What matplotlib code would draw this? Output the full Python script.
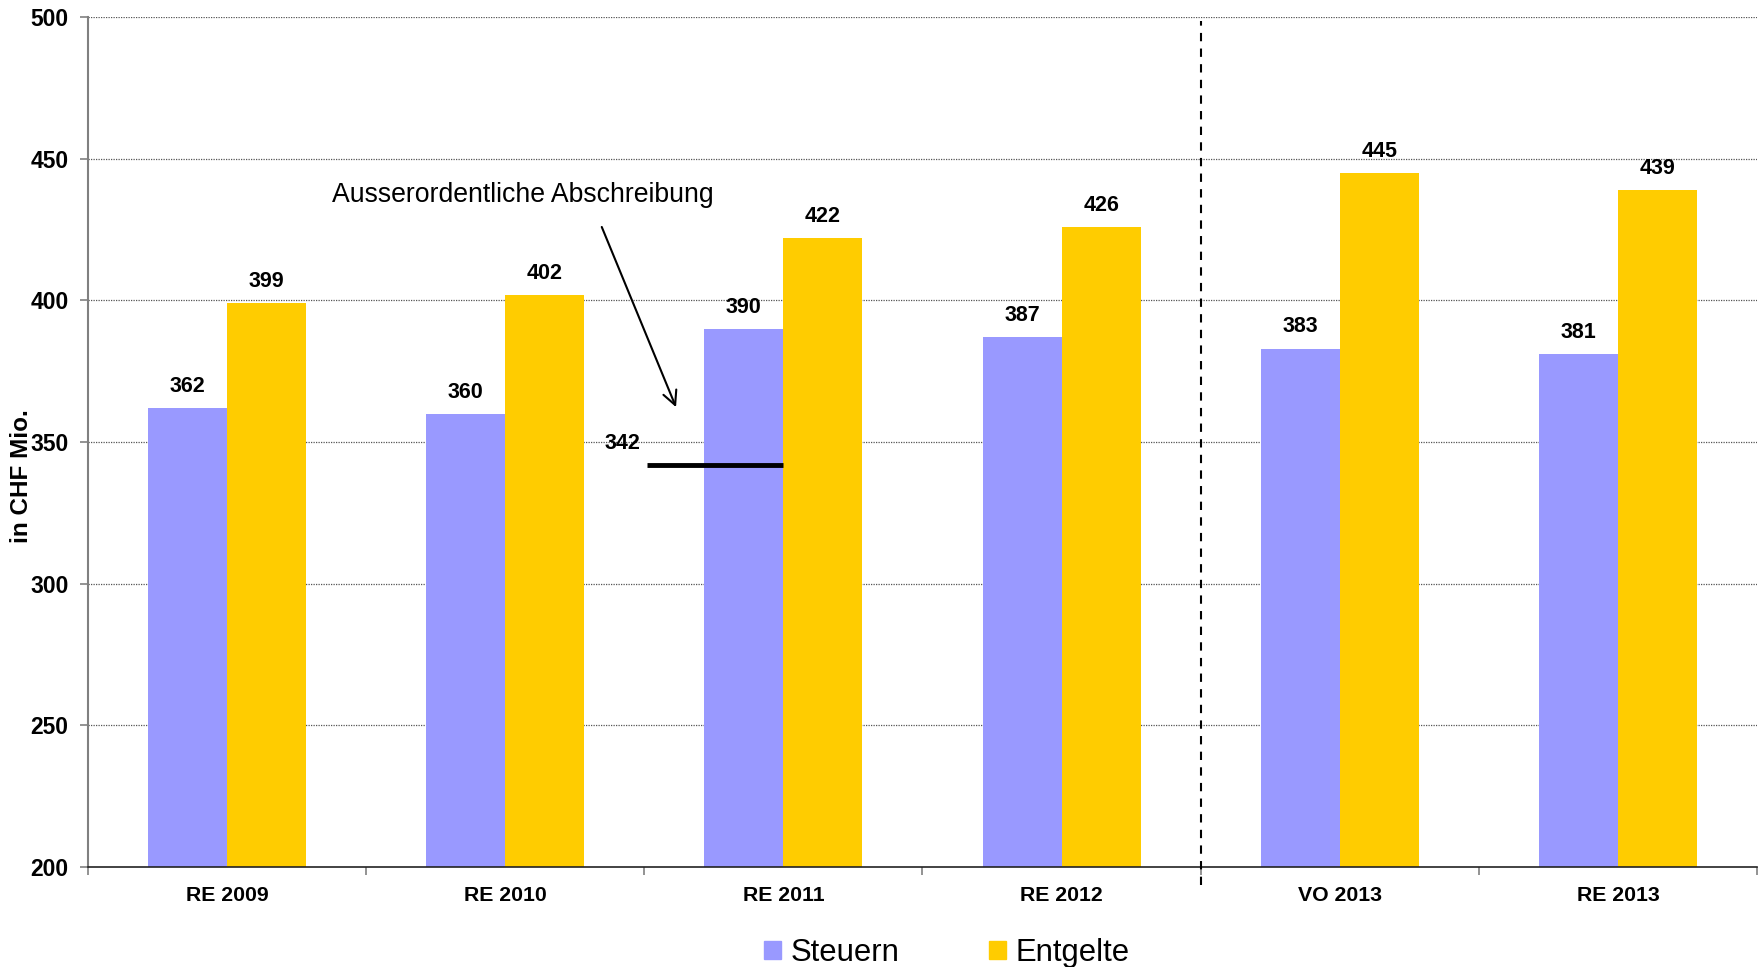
import matplotlib
matplotlib.use("Agg")
import matplotlib.pyplot as plt
from matplotlib.patches import Patch
import numpy as np

plt.rcParams['font.family'] = ['Liberation Sans', 'DejaVu Sans']

categories = ["RE 2009", "RE 2010", "RE 2011", "RE 2012", "VO 2013", "RE 2013"]
steuern = [362, 360, 390, 387, 383, 381]
entgelte = [399, 402, 422, 426, 445, 439]
steuern_ohne_abschreibung = 342  # RE 2011 without the extraordinary write-off
y_ticks = [200, 250, 300, 350, 400, 450, 500]

c_steuern = "#9999FF"
c_entgelte = "#FFCC00"

fig = plt.figure(figsize=(17.63, 9.67), dpi=100)
ax = fig.add_axes([0.0499, 0.1034, 0.9467, 0.879])

x = np.arange(len(categories))
w = 0.284
ax.bar(x - w / 2, steuern, width=w, color=c_steuern, zorder=2)
ax.bar(x + w / 2, entgelte, width=w, color=c_entgelte, zorder=2)

val_fs = 15.5
for xi, v in zip(x, steuern):
    ax.annotate(f"{v}", (xi - w / 2, v), xytext=(0, 8), textcoords="offset points",
                ha="center", va="bottom", fontsize=val_fs, fontweight="bold")
for xi, v in zip(x, entgelte):
    ax.annotate(f"{v}", (xi + w / 2, v), xytext=(0, 8), textcoords="offset points",
                ha="center", va="bottom", fontsize=val_fs, fontweight="bold")

# Steuern RE 2011 before the extraordinary write-off
i11 = categories.index("RE 2011")
ax.plot([i11 - 0.49, i11], [steuern_ohne_abschreibung] * 2, color="black", lw=3.5,
        solid_capstyle="butt", zorder=3)
ax.annotate(f"{steuern_ohne_abschreibung}", (i11 - 0.58, steuern_ohne_abschreibung),
            xytext=(0, 8), textcoords="offset points", ha="center", va="bottom",
            fontsize=val_fs, fontweight="bold")

ax.text(i11 - 0.936, 437.3, "Ausserordentliche Abschreibung", ha="center", va="center",
        fontsize=19.2)
ax.annotate("", xy=(i11 - 0.386, 362.3), xytext=(i11 - 0.653, 425.9),
            arrowprops=dict(arrowstyle="->", color="black", lw=1.5,
                            shrinkA=0, shrinkB=0, mutation_scale=25))

# separator between actuals and budget
ax.plot([3.5, 3.5], [-0.021, 0.995], transform=ax.get_xaxis_transform(),
        color="black", lw=1.5, ls=(0, (4, 3.5)), clip_on=False, zorder=4)

ax.set_xlim(-0.5, len(categories) - 0.5)
ax.set_ylim(200, 500)
ax.set_yticks(y_ticks)
ax.set_yticklabels([str(t) for t in y_ticks], fontsize=16.5, fontweight="bold")
ax.set_xticks(x)
ax.set_xticklabels(categories, fontsize=15.3, fontweight="bold")
ax.set_xticks(np.arange(-0.5, len(categories), 1.0), minor=True)
ax.tick_params(axis="x", which="major", length=0, pad=14)
ax.tick_params(axis="x", which="minor", length=6, color="#808080", width=1.2)
ax.tick_params(axis="y", length=6, color="#808080", width=1.2, pad=8)

for t in y_ticks[1:]:
    ax.axhline(t, color="#555555", lw=0.9, ls=(0, (1, 1)), zorder=1)

ax.spines["top"].set_visible(False)
ax.spines["right"].set_visible(False)
ax.spines["left"].set_color("#808080")
ax.spines["left"].set_linewidth(1.5)
ax.spines["bottom"].set_color("#222222")
ax.spines["bottom"].set_linewidth(1.2)

fig.text(22 / 1763, 0.508, "in CHF Mio.", rotation=90, ha="center", va="center",
         fontsize=17.5, fontweight="bold")

handles = [Patch(color=c_steuern, label="Steuern"), Patch(color=c_entgelte, label="Entgelte")]
fig.legend(handles=handles, loc="center", bbox_to_anchor=(0.537, 0.0145), ncol=2,
           frameon=False, fontsize=22.3, handlelength=0.55, handleheight=0.55,
           handletextpad=0.3, columnspacing=2.9, borderpad=0)

fig.savefig("out.png", dpi=100)
